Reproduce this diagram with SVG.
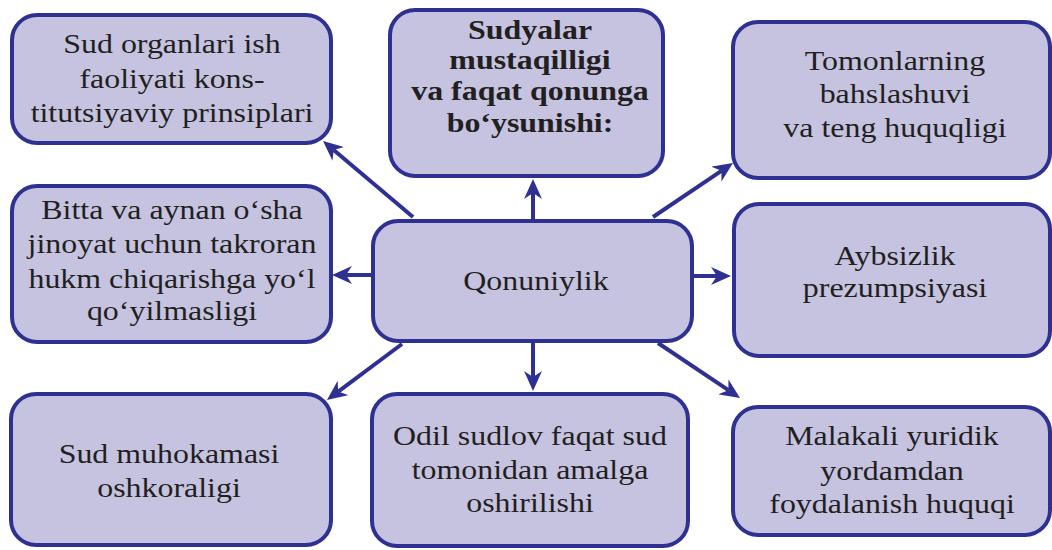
<svg xmlns="http://www.w3.org/2000/svg" width="1052" height="550" viewBox="0 0 1052 550">
<style>
.box{fill:#c5c3e0;stroke:#2e3192;stroke-width:4}
.c{stroke:#2e3192;stroke-width:4;fill:none;marker-end:url(#ah)}
</style>
<defs>
<marker id="ah" viewBox="0 0 20 18" refX="6" refY="9" markerWidth="20" markerHeight="18" markerUnits="userSpaceOnUse" orient="auto">
<path d="M0,0 L20,9 L0,18 L6,9 Z" fill="#2e3192"/>
</marker>
</defs>
<rect width="1052" height="550" fill="#ffffff"/>
<g id="connectors">
<line class="c" x1="533" y1="220" x2="533" y2="193"/>
<line class="c" x1="533" y1="342" x2="533" y2="377"/>
<line class="c" x1="372" y1="275" x2="346" y2="275"/>
<line class="c" x1="693" y1="276" x2="717" y2="276"/>
<line class="c" x1="413" y1="217" x2="333.7" y2="150"/>
<line class="c" x1="653" y1="217" x2="721.4" y2="170.8"/>
<line class="c" x1="402" y1="344" x2="338.2" y2="391.6"/>
<line class="c" x1="658" y1="343" x2="728.4" y2="390.2"/>
</g>
<g font-family="Liberation Serif, Times New Roman, serif" font-size="28" fill="#231f20" text-anchor="middle">
<g id="n_principles">
<rect class="box" x="12" y="15" width="319" height="128" rx="25"/>
<g transform="translate(172,0) scale(1.14,1)">
<text x="0" y="53">Sud organlari ish</text>
<text x="0" y="88">faoliyati kons-</text>
<text x="0" y="122">titutsiyaviy prinsiplari</text>
</g>
</g>
<g id="n_independence">
<rect class="box" x="390" y="10" width="273" height="166" rx="25"/>
<g transform="translate(530,0) scale(1.14,1)" font-weight="bold">
<text x="0" y="39">Sudyalar</text>
<text x="0" y="69">mustaqilligi</text>
<text x="0" y="100">va faqat qonunga</text>
<text x="0" y="132">bo‘ysunishi:</text>
</g>
</g>
<g id="n_adversarial">
<rect class="box" x="733" y="22" width="317" height="156" rx="25"/>
<g transform="translate(895,0) scale(1.14,1)">
<text x="0" y="70">Tomonlarning</text>
<text x="0" y="103">bahslashuvi</text>
<text x="0" y="137">va teng huquqligi</text>
</g>
</g>
<g id="n_double">
<rect class="box" x="12" y="186" width="319" height="156" rx="25"/>
<g transform="translate(172,0) scale(1.14,1)">
<text x="0" y="219">Bitta va aynan o‘sha</text>
<text x="0" y="253">jinoyat uchun takroran</text>
<text x="0" y="288">hukm chiqarishga yo‘l</text>
<text x="0" y="320">qo‘yilmasligi</text>
</g>
</g>
<g id="n_legality">
<rect class="box" x="373" y="221" width="319" height="120" rx="25"/>
<g transform="translate(536,0) scale(1.14,1)">
<text x="0" y="290">Qonuniylik</text>
</g>
</g>
<g id="n_innocence">
<rect class="box" x="734" y="204" width="316" height="152" rx="25"/>
<g transform="translate(895,0) scale(1.14,1)">
<text x="0" y="265">Aybsizlik</text>
<text x="0" y="297">prezumpsiyasi</text>
</g>
</g>
<g id="n_publicity">
<rect class="box" x="11" y="394" width="320" height="151" rx="25"/>
<g transform="translate(169,0) scale(1.14,1)">
<text x="0" y="463">Sud muhokamasi</text>
<text x="0" y="497">oshkoraligi</text>
</g>
</g>
<g id="n_justice">
<rect class="box" x="372" y="394" width="316" height="152" rx="25"/>
<g transform="translate(530,0) scale(1.14,1)">
<text x="0" y="445">Odil sudlov faqat sud</text>
<text x="0" y="479">tomonidan amalga</text>
<text x="0" y="512">oshirilishi</text>
</g>
</g>
<g id="n_legal_aid">
<rect class="box" x="733" y="407" width="317" height="128" rx="25"/>
<g transform="translate(892,0) scale(1.14,1)">
<text x="0" y="445">Malakali yuridik</text>
<text x="0" y="480">yordamdan</text>
<text x="0" y="513">foydalanish huquqi</text>
</g>
</g>
</g>
</svg>
